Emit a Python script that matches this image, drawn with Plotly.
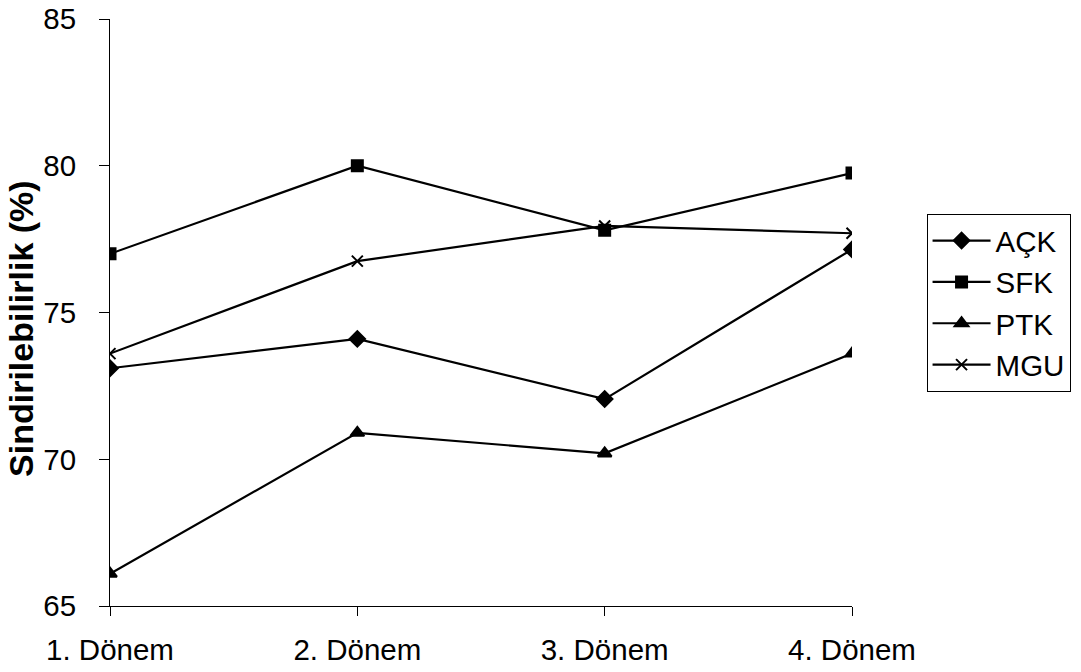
import plotly.graph_objects as go

categories = ["1. Dönem", "2. Dönem", "3. Dönem", "4. Dönem"]
ack = [73.1, 74.1, 72.05, 77.15]
sfk = [77.0, 80.0, 77.8, 79.75]
ptk = [66.1, 70.9, 70.2, 73.6]
mgu = [73.6, 76.75, 77.95, 77.7]

series = [
    ("AÇK", ack, "diamond", 12),
    ("SFK", sfk, "square", 11),
    ("PTK", ptk, "triangle-up", 12),
    ("MGU", mgu, "x-thin-open", 11),
]

FONT = "Arial, Liberation Sans, sans-serif"
TICK = 29.5
fig = go.Figure()
for i, (name, vals, sym, sz) in enumerate(series):
    fig.add_trace(go.Scatter(
        x=categories, y=vals, name=name, mode="lines+markers",
        line=dict(color="black", width=2.2),
        marker=dict(symbol=sym, size=sz, color="black",
                    line=dict(color="black", width=2)),
        legendgroup=name,
    ))

fig.update_layout(
    width=1081, height=672,
    margin=dict(l=110, r=228, t=19, b=66),
    paper_bgcolor="white", plot_bgcolor="white",
    font=dict(family=FONT, size=TICK, color="black"),
    showlegend=True,
    legend=dict(
        x=1.099, y=0.668, xanchor="left", yanchor="top",
        bordercolor="black", borderwidth=1,
        font=dict(family=FONT, size=TICK, color="black"),
        tracegroupgap=0, traceorder="grouped", itemwidth=58,
    ),
    annotations=[dict(
        text="<b>Sindirilebilirlik (%)</b>", textangle=-90,
        xref="paper", yref="paper", x=0, y=0.472, xshift=-89,
        xanchor="center", yanchor="middle", showarrow=False,
        font=dict(family=FONT, size=34, color="black"),
    )],
)
fig.update_xaxes(
    type="category", range=[0, 3], automargin=False,
    showline=True, linecolor="black", linewidth=1,
    ticks="outside", ticklen=9, tickcolor="black",
    showgrid=False, zeroline=False, ticklabelstandoff=9,
    ticklabeloverflow="allow",
    tickfont=dict(family=FONT, size=TICK, color="black"),
)
fig.update_yaxes(
    range=[65, 85], dtick=5, tick0=65, automargin=False,
    showline=True, linecolor="black", linewidth=1,
    ticks="outside", ticklen=10, tickcolor="black",
    showgrid=False, zeroline=False, ticklabelstandoff=17,
    ticklabeloverflow="allow",
    tickfont=dict(family=FONT, size=TICK, color="black"),
)
fig.write_html("out.html", config={"displayModeBar": False},
               post_script="document.body.style.margin='0';")
